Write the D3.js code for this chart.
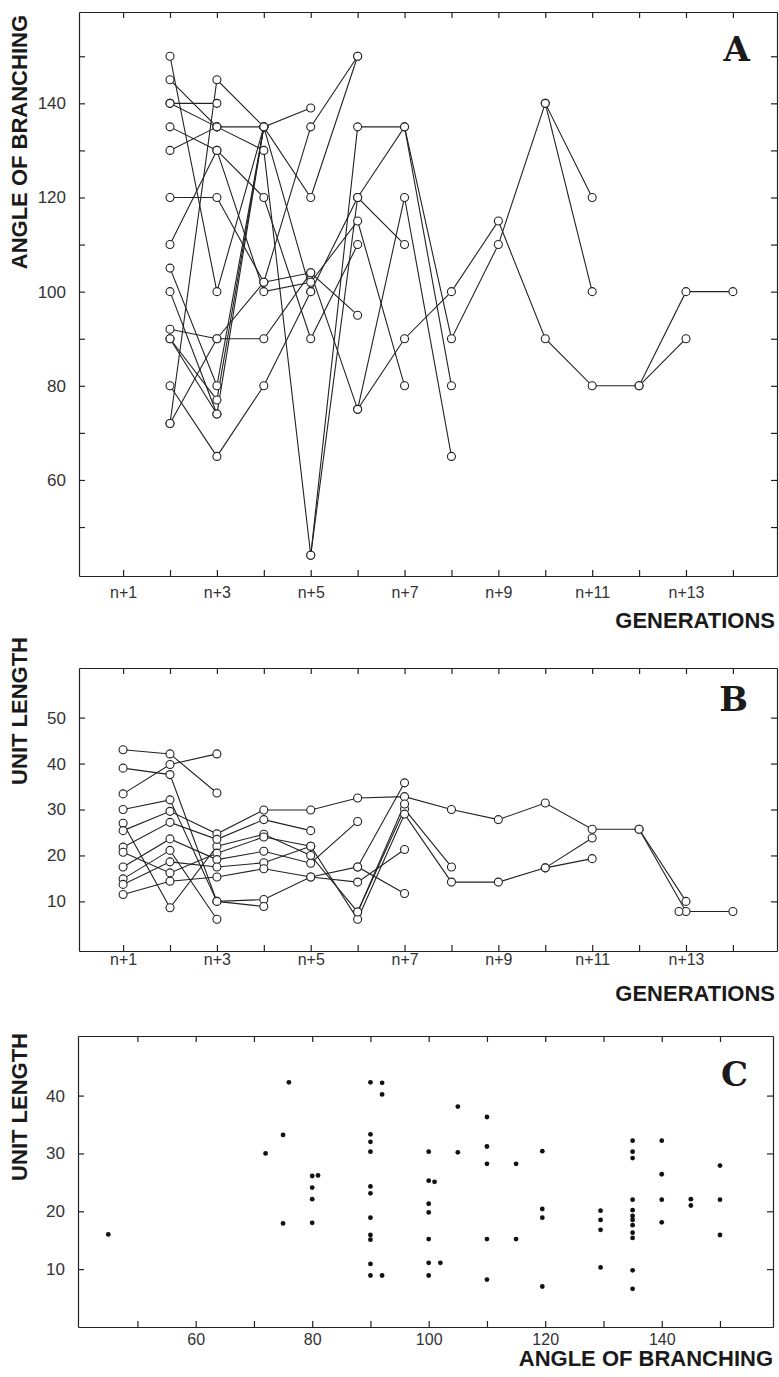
<!DOCTYPE html>
<html>
<head>
<meta charset="utf-8">
<script src="https://cdn.jsdelivr.net/npm/d3@7"></script>
<style>
  body { margin: 0; background: #fff; }
  svg { display: block; }
  .axis path, .axis line { stroke: #222; stroke-width: 1.2; }
  .tick text { font-family: 'Liberation Sans', Arial, sans-serif; fill: #333; }
  .title { font-family: 'Liberation Sans', Arial, sans-serif; font-weight: bold; font-size: 22px; fill: #1a1a1a; }
  .letter { font-family: 'DejaVu Serif', serif; font-weight: bold; font-size: 34px; fill: #1a1a1a; }
</style>
</head>
<body>
<svg id="chart" width="779" height="1377"></svg>
<script>
// generations n+1 .. n+14, only odd ones are labelled
const generations = d3.range(1, 15)

// A: angle of branching along each branch, a path starts at generation `from`
const anglePaths = [
  {from: 2, v: [150, 100, 135, 139]},
  {from: 2, v: [145, 135, 135]},
  {from: 2, v: [140, 140]},
  {from: 2, v: [140, 135, 130, 44, 135, 135, 90, 110, 140, 120]},
  {from: 10, v: [140, 100]},
  {from: 2, v: [135, 130, 120, 90, 110]},
  {from: 2, v: [130, 135]},
  {from: 2, v: [120, 120, 102, 135, 150]},
  {from: 2, v: [110, 130, 100, 102, 115, 80]},
  {from: 2, v: [72, 145, 135, 120, 150]},
  {from: 2, v: [105, 80, 135]},
  {from: 2, v: [92, 90, 90, 104, 95]},
  {from: 2, v: [80, 65, 80, 100, 120, 110]},
  {from: 2, v: [72, 90, 102, 104, 75, 90, 100, 115, 90, 80, 80, 100, 100]},
  {from: 12, v: [80, 90]},
  {from: 6, v: [120, 135, 80]},
  {from: 6, v: [75, 120, 65]},
  {from: 5, v: [44, 120]},
  {from: 2, v: [100, 74, 135, 100]},
  {from: 2, v: [90, 77, 135]},
  {from: 2, v: [90, 74]}
]
const angleTicks = [50, 60, 70, 80, 90, 100, 110, 120, 130, 140, 150]
const angleLabels = [60, 80, 100, 120, 140]

// B: unit length along each branch
const lengthPaths = [
  {from: 1, v: [43, 42.1, 33.6]},
  {from: 1, v: [39, 37.6, 10, 10.4, 15.3, 17.5, 11.7]},
  {from: 1, v: [33.4, 39.8, 42.1]},
  {from: 1, v: [30, 32.1, 10, 8.9]},
  {from: 1, v: [27, 8.6, 22, 24.6, 20, 7.7, 30.1, 17.5]},
  {from: 1, v: [25.4, 29.6, 24.7, 29.9, 29.9, 32.5, 32.8, 30, 27.8, 31.4, 25.7, 25.7, 10]},
  {from: 1, v: [21.8, 27.2, 23.5, 27.8, 25.4]},
  {from: 1, v: [20.7, 16.2, 20.5, 24, 22, 6.1, 29, 14.2, 14.2, 17.3, 23.8]},
  {from: 1, v: [17.5, 23.6, 19.1, 20.9, 18.3, 27.4]},
  {from: 1, v: [14.9, 21.1, 6.1]},
  {from: 1, v: [13.7, 18.6, 17.5, 18.4, 22]},
  {from: 1, v: [11.5, 14.4, 15.3, 17.1, 15.3, 14.2, 21.3]},
  {from: 6, v: [17.5, 35.8]},
  {from: 6, v: [7.7, 31.2]},
  {from: 10, v: [17.3, 19.3]},
  {from: 12, v: [25.7, 7.8, 7.8]}
]
const lengthExtraNodes = [[12.85, 7.8]]
const lengthTicks = [10, 20, 30, 40, 50]

// C: unit length against angle of branching
const angleC = [45, 72, 75, 76, 75, 80, 81, 80, 80, 80,
  90, 90, 90, 90, 90, 90, 90, 90, 90, 90, 90, 92, 92, 92,
  100, 100, 101, 100, 100, 100, 100, 102, 100, 105, 105,
  110, 110, 110, 110, 110, 115, 115, 119.5, 119.5, 119.5, 119.5,
  129.5, 129.5, 129.5, 129.5,
  135, 135, 135, 135, 135, 135, 135, 135, 135, 135, 135, 135,
  140, 140, 140, 140, 145, 145, 150, 150, 150]
const lengthC = [16, 30, 33.2, 42.3, 17.9, 26.1, 26.2, 24.1, 22.1, 18,
  42.3, 33.3, 32, 30.3, 24.3, 23.1, 18.9, 15.9, 15.1, 10.9, 8.9, 42.2, 40.2, 8.9,
  30.3, 25.3, 25.1, 21.3, 19.8, 15.2, 11.1, 11.1, 8.9, 30.2, 38.1,
  36.3, 31.2, 28.2, 15.2, 8.2, 28.2, 15.2, 30.4, 20.4, 18.9, 7,
  20.1, 18.5, 16.8, 10.3,
  32.2, 30.3, 29.2, 22, 20.2, 19.2, 18.5, 17.6, 16.3, 15.4, 9.8, 6.6,
  32.2, 26.4, 22, 18.1, 22.1, 21, 27.9, 22, 15.9]
const angleTicksC = [50, 60, 70, 80, 90, 100, 110, 120, 130, 140, 150]
const angleLabelsC = [60, 80, 100, 120, 140]
const lengthTicksC = [10, 20, 30, 40]

let svg = d3.select('#chart')

function drawFrame(g, x, y, xTicks, xFormat, yTicks, yFormat, xPad) {
  let bottom = y.range()[0]
  let top = y.range()[1]
  let left = x.range()[0]
  let right = x.range()[1]

  g.append('g')
      .attr('class', 'axis')
      .attr('transform', 'translate(0,' + bottom + ')')
      .call(d3.axisBottom(x).tickValues(xTicks).tickFormat(xFormat)
        .tickSize(-6).tickSizeOuter(0).tickPadding(xPad))
    .selectAll('text')
      .style('font-size', '16px')

  g.append('g')
      .attr('class', 'axis')
      .attr('transform', 'translate(0,' + top + ')')
      .call(d3.axisTop(x).tickValues(xTicks).tickFormat('')
        .tickSize(-6).tickSizeOuter(0))

  g.append('g')
      .attr('class', 'axis')
      .attr('transform', 'translate(' + left + ',0)')
      .call(d3.axisLeft(y).tickValues(yTicks).tickFormat(yFormat)
        .tickSize(-6).tickSizeOuter(0).tickPadding(13))
    .selectAll('text')
      .style('font-size', '17px')

  g.append('g')
      .attr('class', 'axis')
      .attr('transform', 'translate(' + right + ',0)')
      .call(d3.axisRight(y).tickValues(yTicks).tickFormat('')
        .tickSize(-6).tickSizeOuter(0))
}

function genFormat(d) {
  return d % 2 ? 'n+' + d : ''
}

function linePanel(x, y, paths, extra) {
  let g = svg.append('g')
  let line = d3.line()
      .x(d => x(d[0]))
      .y(d => y(d[1]))

  let series = paths.map(p => p.v.map((v, i) => [p.from + i, v]))
  let nodes = series.flat().concat(extra)

  g.selectAll('.branch')
      .data(series)
    .enter().append('path')
      .attr('class', 'branch')
      .attr('d', line)
      .attr('fill', 'none')
      .attr('stroke', '#222')
      .attr('stroke-width', 1.1)

  g.selectAll('.node')
      .data(nodes)
    .enter().append('circle')
      .attr('class', 'node')
      .attr('cx', d => x(d[0]))
      .attr('cy', d => y(d[1]))
      .attr('r', 4)
      .attr('fill', '#fff')
      .attr('stroke', '#222')
      .attr('stroke-width', 1.1)
  return g
}

function title(text, px, py, rotate, cls) {
  svg.append('text')
      .attr('class', cls || 'title')
      .attr('text-anchor', 'end')
      .attr('transform', 'translate(' + px + ',' + py + ')' + (rotate ? ' rotate(-90)' : ''))
      .text(text)
}

// panel A
let xA = d3.scaleLinear().domain([0.06, 14.94]).range([79, 777])
let yA = d3.scaleLinear().domain([39.6, 159.4]).range([576, 12])
let gA = linePanel(xA, yA, anglePaths, [])
drawFrame(gA, xA, yA, generations, genFormat, angleTicks,
  d => angleLabels.includes(d) ? d : '', 11)

// panel B
let xB = d3.scaleLinear().domain([0.06, 14.94]).range([79, 777])
let yB = d3.scaleLinear().domain([-0.8, 60.8]).range([951, 668])
let gB = linePanel(xB, yB, lengthPaths, lengthExtraNodes)
drawFrame(gB, xB, yB, generations, genFormat, lengthTicks, d => d, 3)

// panel C
let xC = d3.scaleLinear().domain([39.8, 159.1]).range([78, 773])
let yC = d3.scaleLinear().domain([0, 50.3]).range([1327, 1036])
let gC = svg.append('g')
gC.selectAll('.dot')
    .data(angleC)
  .enter().append('circle')
    .attr('class', 'dot')
    .attr('cx', d => xC(d))
    .attr('cy', (d, i) => yC(lengthC[i]))
    .attr('r', 2.4)
    .attr('fill', '#111')
drawFrame(gC, xC, yC, angleTicksC, d => angleLabelsC.includes(d) ? d : '',
  lengthTicksC, d => d, 7)

title('ANGLE OF BRANCHING', 27, 15, true)
title('GENERATIONS', 775, 628)
title('UNIT LENGTH', 27, 637, true)
title('GENERATIONS', 775, 1001)
title('UNIT LENGTH', 27, 1033, true)
title('ANGLE OF BRANCHING', 773, 1366)

title('A', 750, 61, false, 'letter')
title('B', 748, 711, false, 'letter')
title('C', 748, 1086, false, 'letter')
</script>
</body>
</html>
